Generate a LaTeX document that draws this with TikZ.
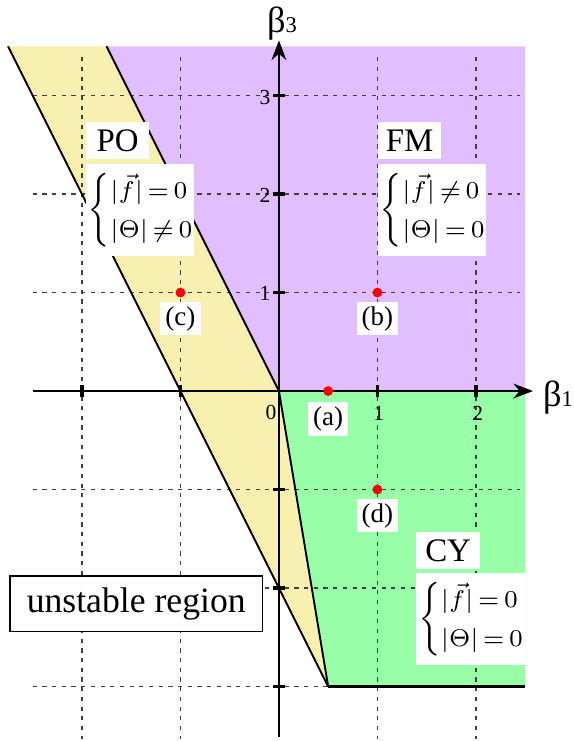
\documentclass[tikz,border=0pt]{standalone}
\usepackage{amsmath}
\usepackage{fontspec}
\setmainfont{Liberation Serif}
\usetikzlibrary{arrows.meta,positioning}

\definecolor{fmcol}{RGB}{224,190,255}
\definecolor{pocol}{RGB}{248,240,176}
\definecolor{cycol}{RGB}{152,255,168}
\newcommand{\condfont}{\fontsize{7.1}{8.8}\selectfont\def\arraystretch{1.3}\thickmuskip=3mu\relax}

\begin{document}
\begin{tikzpicture}[>=Stealth,
  gridln/.style={black!75,line width=0.4pt,dash pattern=on 1.2pt off 1.6pt},
  tk/.style={line width=1pt},
  num/.style={font=\fontsize{6.2}{7}\selectfont,inner sep=0pt},
  tag/.style={fill=white,inner sep=1pt,minimum width=0.645cm,minimum height=0.372cm,font=\fontsize{9.5}{11}\selectfont},
  cond/.style={fill=white,inner sep=0.5pt,minimum width=0.924cm,minimum height=0.93cm,font=\condfont},
  redpt/.style={circle,fill=red,inner sep=0pt,minimum size=0.1cm},
  ptlab/.style={fill=white,inner xsep=1.5pt,inner ysep=1.3pt,font=\fontsize{7.8}{9}\selectfont}]
\useasboundingbox (-2.832,-3.553) rectangle (2.995,3.970);

% regions
\fill[fmcol] (-1.75,3.5)--(2.5,3.5)--(2.5,0)--(0,0)--cycle;
\fill[pocol] (-2.75,3.5)--(-1.75,3.5)--(0,0)--(0.5,-3)--cycle;
\fill[cycol] (0,0)--(2.5,0)--(2.5,-3)--(0.5,-3)--cycle;

% grid
\foreach \x in {-2,-1,1,2}
  \draw[gridln] (\x,3.39)--(\x,-3.53);
\foreach \y in {-3,-2,-1,1,2,3}
  \draw[gridln] (-2.5,\y)--(2.45,\y);

% boundaries
\draw[line width=0.55pt] (-2.75,3.5)--(0.5,-3);
\draw[line width=0.55pt] (-1.75,3.5)--(0,0)--(0.5,-3);
\draw[line width=1pt] (0.5,-3)--(2.5,-3);

% axes
\draw[->,line width=0.6pt] (-2.5,0)--(2.58,0);
\draw[->,line width=0.6pt] (0,-3.51)--(0,3.56);
\foreach \x in {-2,-1,1,2}
  \draw[tk] (\x,-0.065)--(\x,0.065);
\foreach \y in {-3,-2,-1,1,2,3}
  \draw[tk] (-0.06,\y)--(0.06,\y);
\node[num] (y3) at (-0.142,2.98) {3};
\node[num] (y2) at (-0.142,1.99) {2};
\node[num] (y1) at (-0.142,0.995) {1};
\node[num] (o) at (-0.081,-0.213) {0};
\node[num] (x1) at (1.015,-0.223) {1};
\node[num] (x2) at (2.017,-0.223) {2};
\node[inner sep=0pt] (b1) at (2.833,-0.071) {{\fontsize{10.5}{12}\selectfont β}{\fontsize{6.5}{8}\selectfont 1}};
\node[inner sep=0pt] (b3) at (0.03,3.726) {{\fontsize{10.5}{12}\selectfont β}{\fontsize{6.5}{8}\selectfont 3}};

% regions labels
\node[tag,anchor=north west] (po) at (-1.967,2.734) {PO};
\node[cond,below right=0.04 and 0 of po.south west] (poc)
  {$\Biggl\{\begin{array}{@{}l@{}}|\vec{f}|=0\\|\Theta|\neq 0\end{array}$};
\node[tag,anchor=north west] (fm) at (0.998,2.734) {FM};
\node[cond,below right=0.04 and 0 of fm.south west] (fmc)
  {$\Biggl\{\begin{array}{@{}l@{}}|\vec{f}|\neq 0\\|\Theta|=0\end{array}$};
\node[tag,anchor=north west] (cy) at (1.388,-1.428) {CY};
\node[cond,below right=0.03 and 0 of cy.south west] (cyc)
  {$\Biggl\{\begin{array}{@{}l@{}}|\vec{f}|=0\\|\Theta|=0\end{array}$};
\node[draw,fill=white,line width=0.5pt,minimum width=2.566cm,minimum height=0.4975cm,
  font=\fontsize{10.3}{12}\selectfont] (unst) at (-1.449,-2.159) {unstable region};

% points
\node[redpt] (a) at (0.5,0) {};
\node[redpt] (b) at (1,1) {};
\node[redpt] (c) at (-1,1) {};
\node[redpt] (d) at (1,-1) {};
\node[ptlab,below=0.05 of a] (la) {(a)};
\node[ptlab,below=0.03 of b] (lb) {(b)};
\node[ptlab,below=0.03 of c] (lc) {(c)};
\node[ptlab,below=0.03 of d] (ld) {(d)};
\end{tikzpicture}
\end{document}
